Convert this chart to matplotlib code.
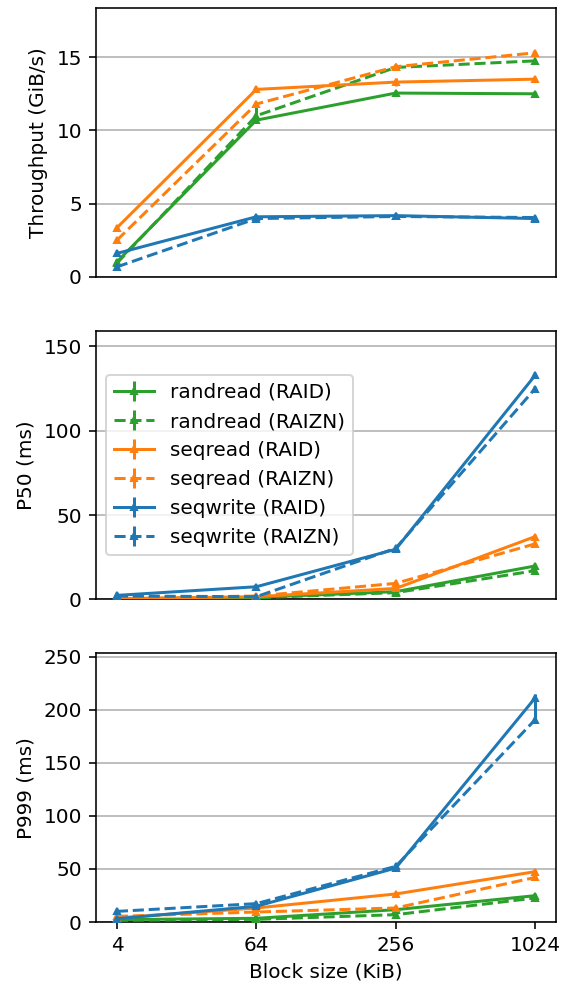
import matplotlib
matplotlib.use("Agg")
import matplotlib.pyplot as plt
import numpy as np

block_sizes = ["4", "64", "256", "1024"]
series_labels = ["randread (RAID)", "randread (RAIZN)", "seqread (RAID)",
                 "seqread (RAIZN)", "seqwrite (RAID)", "seqwrite (RAIZN)"]
series_colors = ["#2ca02c", "#2ca02c", "#ff7f0e", "#ff7f0e", "#1f77b4", "#1f77b4"]
series_styles = ["-", "--", "-", "--", "-", "--"]

# Throughput (GiB/s)
tput = [
    [1.02, 10.7, 12.55, 12.5],
    [0.93, 11.0, 14.3, 14.75],
    [3.35, 12.8, 13.3, 13.5],
    [2.5, 11.8, 14.35, 15.3],
    [1.6, 4.1, 4.18, 3.98],
    [0.68, 3.98, 4.12, 4.05],
]
tput_err_lo = [
    [0.02, 0.05, 0.05, 0.05],
    [0.02, 0.1, 0.05, 0.05],
    [0.02, 0.05, 0.25, 0.05],
    [0.02, 0.05, 0.05, 0.05],
    [0.02, 0.05, 0.05, 0.05],
    [0.02, 0.05, 0.05, 0.05],
]
tput_err_hi = [
    [0.02, 0.05, 0.05, 0.05],
    [0.02, 0.8, 0.05, 0.05],
    [0.02, 0.05, 0.3, 0.05],
    [0.02, 0.05, 0.05, 0.05],
    [0.02, 0.05, 0.05, 0.05],
    [0.02, 0.05, 0.05, 0.05],
]

# P50 latency (ms)
p50 = [
    [0.4, 1.2, 4.6, 19.8],
    [0.4, 1.0, 4.0, 17.0],
    [0.5, 1.6, 6.5, 37.2],
    [0.8, 2.0, 9.5, 32.9],
    [2.4, 7.5, 29.7, 132.7],
    [2.0, 1.6, 30.3, 124.8],
]
p50_err_lo = [
    [0.05, 0.1, 0.3, 0.5],
    [0.05, 0.1, 0.3, 0.5],
    [0.05, 0.1, 0.3, 0.8],
    [0.05, 0.1, 0.3, 0.8],
    [0.1, 0.3, 0.8, 1.0],
    [0.1, 0.1, 0.8, 1.0],
]
p50_err_hi = p50_err_lo

# P999 latency (ms)
p999 = [
    [2.2, 3.5, 11.6, 24.8],
    [1.6, 2.5, 6.9, 22.6],
    [3.8, 13.2, 26.4, 47.4],
    [5.3, 9.4, 13.2, 42.0],
    [3.1, 14.8, 50.8, 211.0],
    [10.0, 17.3, 52.4, 190.5],
]
p999_err_lo = [
    [0.2, 0.3, 0.5, 1.5],
    [0.2, 0.3, 0.5, 1.5],
    [0.2, 0.5, 0.5, 1.5],
    [0.2, 0.5, 0.5, 1.5],
    [0.2, 0.8, 1.0, 4.0],
    [0.3, 0.8, 1.0, 0.0],
]
p999_err_hi = [
    [0.2, 0.3, 0.5, 1.5],
    [0.2, 0.3, 0.5, 1.5],
    [0.2, 0.5, 0.5, 1.5],
    [0.2, 0.5, 0.5, 1.5],
    [0.2, 0.8, 1.0, 4.0],
    [0.3, 0.8, 1.0, 21.0],
]

y_labels = ["Throughput (GiB/s)", "P50 (ms)", "P999 (ms)"]
y_ticks = [[0, 5, 10, 15], [0, 50, 100, 150], [0, 50, 100, 150, 200, 250]]

DPI = 144
fig = plt.figure(figsize=(571 / DPI, 985 / DPI), dpi=DPI)
gs = fig.add_gridspec(3, 1, left=96 / 571, right=556 / 571,
                      top=1 - 8 / 985, bottom=1 - 922 / 985, hspace=0.2)
axes = [fig.add_subplot(gs[i, 0]) for i in range(3)]

datasets = [(tput, tput_err_lo, tput_err_hi),
            (p50, p50_err_lo, p50_err_hi),
            (p999, p999_err_lo, p999_err_hi)]

x = np.arange(len(block_sizes))
for i, (ax, (vals, elo, ehi)) in enumerate(zip(axes, datasets)):
    for j in range(len(series_labels)):
        ax.errorbar(x, vals[j], yerr=[elo[j], ehi[j]], color=series_colors[j],
                    linestyle=series_styles[j], marker="^", markersize=3,
                    linewidth=1.5, elinewidth=1.5, capsize=0,
                    label=series_labels[j], zorder=3)
    vmax = max(max(v) for v in vals)
    ax.set_ylim(0, vmax * 1.2)
    ax.set_yticks(y_ticks[i])
    ax.set_ylabel(y_labels[i])
    ax.grid(axis="y", color="#b0b0b0", linewidth=0.8, zorder=0)
    ax.set_axisbelow(True)
    ax.set_xlim(-0.15, len(block_sizes) - 1 + 0.15)
    if i < 2:
        ax.set_xticks([])
    else:
        ax.set_xticks(x)
        ax.set_xticklabels(block_sizes)
        ax.set_xlabel("Block size (KiB)")

axes[1].legend(loc="center left")

fig.savefig("out.png", dpi=DPI)
